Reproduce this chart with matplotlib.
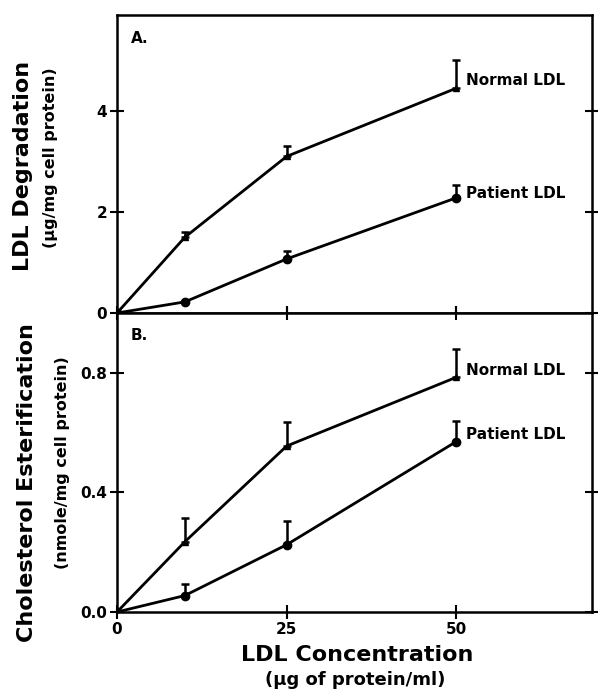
import numpy as np
import matplotlib.pyplot as plt

plt.rcParams['font.family'] = ['DejaVu Sans']
plt.rcParams['font.weight'] = 'bold'

conc = [0, 10, 25, 50]

# panel A: LDL degradation (ug/mg cell protein)
deg_normal = [0, 1.5, 3.1, 4.45]
deg_normal_err = [0, 0.1, 0.2, 0.55]
deg_patient = [0, 0.22, 1.07, 2.28]
deg_patient_err = [0, 0.0, 0.15, 0.25]

# panel B: cholesterol esterification (nmole/mg cell protein)
est_normal = [0, 0.235, 0.555, 0.785]
est_normal_err = [0, 0.08, 0.08, 0.095]
est_patient = [0, 0.055, 0.225, 0.57]
est_patient_err = [0, 0.04, 0.08, 0.07]

W, H = 598, 691
fig = plt.figure(figsize=(W / 100, H / 100), dpi=100)

left, right = 117 / W, 592 / W
axA = fig.add_axes([left, 1 - 313 / H, right - left, (313 - 15) / H])
axB = fig.add_axes([left, 1 - 612 / H, right - left, (612 - 313) / H])


def draw(ax, yn, en, yp, ep):
    lo = np.zeros(len(en))
    ax.errorbar(conc, yn, yerr=[lo, en], color='black', lw=2, marker='^',
                ms=5, capsize=3, elinewidth=1.8, capthick=1.8)
    ax.errorbar(conc, yp, yerr=[lo, ep], color='black', lw=2, marker='o',
                ms=6, capsize=3, elinewidth=1.8, capthick=1.8)
    ax.set_xlim(0, 70)
    for s in ax.spines.values():
        s.set_linewidth(1.8)
    ax.tick_params(direction='inout', length=10, width=1.5, labelsize=11,
                   right=True, top=True, pad=2)


draw(axA, deg_normal, deg_normal_err, deg_patient, deg_patient_err)
draw(axB, est_normal, est_normal_err, est_patient, est_patient_err)

axA.set_ylim(0, 5.9)
axA.set_yticks([0, 2, 4])
axA.set_xticks([25, 50])
axA.tick_params(top=False, labelbottom=False)
axA.set_yticklabels(['0', '2', '4'], fontweight='bold')

axB.set_ylim(0, 1.0)
axB.set_yticks([0.0, 0.4, 0.8])
axB.set_yticklabels(['0.0', '0.4', '0.8'], fontweight='bold')
axB.set_xticks([0, 25, 50])
axB.set_xticklabels(['0', '25', '50'], fontweight='bold')

axA.text(2, 5.35, 'A.', fontsize=11, fontweight='bold')
axB.text(2, 0.91, 'B.', fontsize=11, fontweight='bold')

axA.text(51.5, 4.6, 'Normal LDL', fontsize=11, fontweight='bold', va='center')
axA.text(51.5, 2.36, 'Patient LDL', fontsize=11, fontweight='bold', va='center')
axB.text(51.5, 0.807, 'Normal LDL', fontsize=11, fontweight='bold', va='center')
axB.text(51.5, 0.595, 'Patient LDL', fontsize=11, fontweight='bold', va='center')

fig.text(23 / W, 1 - 166 / H, 'LDL Degradation', rotation=90, fontsize=16,
         fontweight='bold', ha='center', va='center')
fig.text(51 / W, 1 - 158 / H, '(μg/mg cell protein)', rotation=90, fontsize=11.5,
         fontweight='bold', ha='center', va='center')
fig.text(27 / W, 1 - 483 / H, 'Cholesterol Esterification', rotation=90,
         fontsize=16, fontweight='bold', ha='center', va='center')
fig.text(63 / W, 1 - 463 / H, '(nmole/mg cell protein)', rotation=90,
         fontsize=11.5, fontweight='bold', ha='center', va='center')

fig.text(357 / W, 1 - 655 / H, 'LDL Concentration', fontsize=16,
         fontweight='bold', ha='center', va='center')
fig.text(355 / W, 1 - 680 / H, '(μg of protein/ml)', fontsize=13,
         fontweight='bold', ha='center', va='center')

fig.savefig('out.png', dpi=100)
